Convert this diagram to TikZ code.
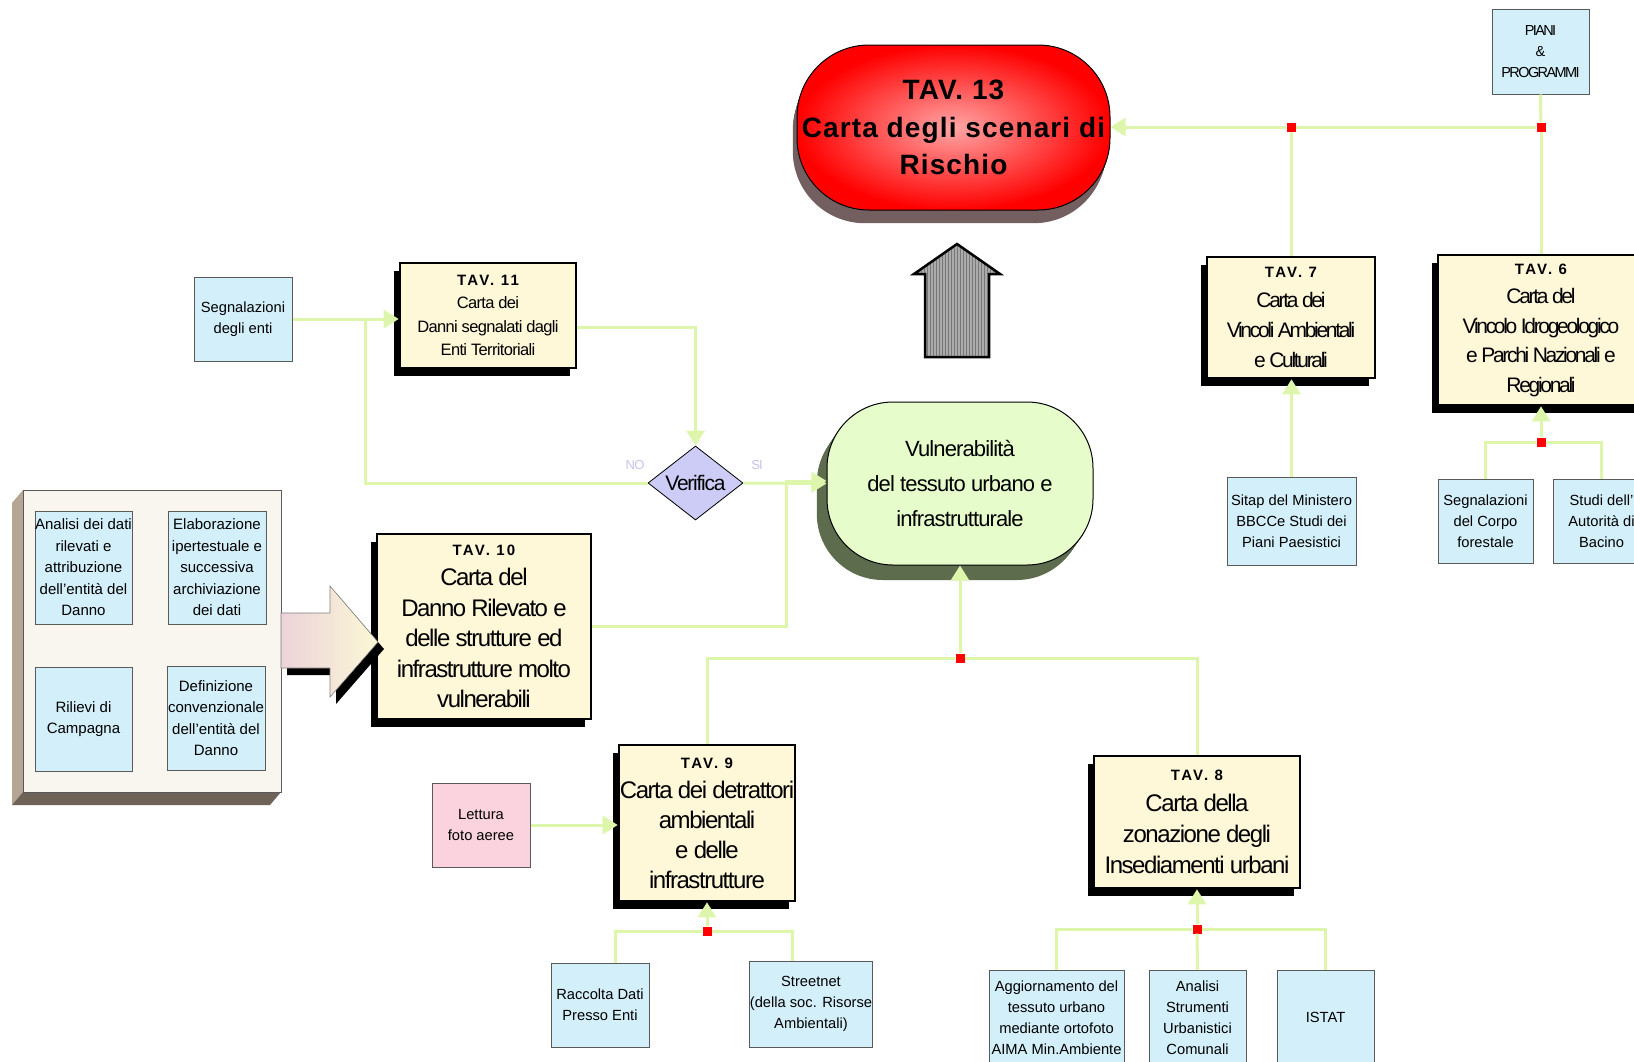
\documentclass[tikz,border=0pt]{standalone}
\usepackage{fontspec}
\setmainfont{Liberation Sans}
\newfontfamily\tightA[LetterSpace=-4]{Liberation Sans}
\newfontfamily\tightB[LetterSpace=-6]{Liberation Sans}
\newfontfamily\tightC[LetterSpace=-11]{Liberation Sans}
\newfontfamily\spaced[LetterSpace=15]{Liberation Sans}
\newfontfamily\spacedbig[LetterSpace=4]{Liberation Sans}
\usetikzlibrary{arrows.meta,shapes.geometric,shadows,patterns,calc}

\definecolor{linkgreen}{HTML}{DDF6AC}
\definecolor{boxblue}{HTML}{D3EFF9}
\definecolor{boxedge}{HTML}{5A5A5A}
\definecolor{pinkbox}{HTML}{FAD3DE}
\definecolor{tavfill}{HTML}{FEF7D8}
\definecolor{diafill}{HTML}{CCCCF7}
\definecolor{nosi}{HTML}{C4C4F0}
\definecolor{vulnfill}{HTML}{E6FCCB}
\definecolor{vulnside}{HTML}{5E6C4E}
\definecolor{redside}{HTML}{735F60}
\definecolor{panelface}{HTML}{F9F6F0}
\definecolor{panelleft}{HTML}{B5A595}
\definecolor{panelbottom}{HTML}{6F6358}
\definecolor{arrpink}{HTML}{ECD3D9}
\definecolor{arrcream}{HTML}{FBF8D6}
\definecolor{arrgray}{HTML}{ABABAB}
\definecolor{arrstripe}{HTML}{777777}

\newcommand\fsz[2]{\fontsize{#1}{#2}\selectfont}
\newcommand\tavhead[1]{{\spaced\bfseries\fontsize{15}{18}\selectfont #1}}

\begin{document}
\begin{tikzpicture}[x=1pt,y=-1pt,
  link/.style={draw=linkgreen, line width=3pt},
  arr/.style={link, -{Triangle[length=15pt,width=18pt]}},
  info/.style={draw=boxedge, line width=1pt, fill=boxblue, align=center,
    inner sep=0pt, font=\fsz{14.7}{21}},
  tav/.style={draw=black, line width=2.6pt, fill=tavfill, align=center,
    inner sep=0pt,
    drop shadow={shadow xshift=-6pt, shadow yshift=-8pt, fill=black, opacity=1}},
  junc/.style={fill=red, draw=none, minimum size=9pt, inner sep=0pt},
  subbox/.style={info, font=\fsz{15}{21.5}}
]
\path[use as bounding box] (0,0) rectangle (1634,1061);
\clip (0,0) rectangle (1634,1061);
\fill[white] (0,0) rectangle (1634,1061);

% ---------- extruded sides of the two rounded shapes ----------
\foreach \k in {1,...,12}
  \fill[redside, rounded corners=72pt]
    ({797-0.35*\k},{45+1.1*\k}) rectangle ({1110-0.35*\k},{210+1.1*\k});
\foreach \k in {1,...,12}
  \fill[vulnside, rounded corners=66pt]
    ({827-0.85*\k},{402+1.25*\k}) rectangle ({1093-0.85*\k},{565+1.25*\k});

% ---------- main map ----------
\node[draw=black, line width=1pt, rounded corners=72pt,
      inner color=red!35!white, outer color=red,
      minimum width=313pt, minimum height=165pt, inner sep=0pt,
      align=center, font=\spacedbig\bfseries\fsz{28}{37.5}]
  (tav13) at (953.5,127.5) {TAV. 13\\Carta degli scenari di\\Rischio};

\node[draw=black, line width=1pt, rounded corners=66pt, fill=vulnfill,
      minimum width=266pt, minimum height=163pt, inner sep=0pt,
      align=center, font=\tightA\fsz{22}{35}]
  (vuln) at (960,483.5) {Vulnerabilità\\del tessuto urbano e\\infrastrutturale};

% ---------- TAV boxes ----------
\node[tav, minimum width=176pt, minimum height=105pt, font=\tightA\fsz{16.5}{23.5}]
  (tav11) at (488,315.5) {\tavhead{TAV. 11}\\Carta dei\\Danni segnalati dagli\\Enti Territoriali};
\node[tav, minimum width=214pt, minimum height=185pt, font=\tightB\fsz{24}{30.5}]
  (tav10) at (484,626.5) {\tavhead{TAV. 10}\\Carta del\\Danno Rilevato e\\delle strutture ed\\infrastrutture molto\\vulnerabili};
\node[tav, minimum width=176pt, minimum height=156pt, font=\tightB\fsz{24}{30}]
  (tav9) at (707,823) {\tavhead{TAV. 9}\\Carta dei detrattori\\ambientali\\e delle\\infrastrutture};
\node[tav, minimum width=206pt, minimum height=132pt, font=\tightB\fsz{24}{31}]
  (tav8) at (1197,822) {\tavhead{TAV. 8}\\Carta della\\zonazione degli\\Insediamenti urbani};
\node[tav, minimum width=168pt, minimum height=121pt, font=\tightC\fsz{21}{30}]
  (tav7) at (1291,317.5) {\tavhead{TAV. 7}\\Carta dei\\Vincoli Ambientali\\e Culturali};
\node[tav, minimum width=206pt, minimum height=150pt, font=\tightC\fsz{21}{29.5}]
  (tav6) at (1541,330) {\tavhead{TAV. 6}\\Carta del\\Vincolo Idrogeologico\\e Parchi Nazionali e\\Regionali};

% ---------- decision ----------
\node[diamond, draw=black, line width=0.8pt, fill=diafill, inner sep=0pt,
      minimum width=95pt, minimum height=74pt,
      label={[font=\tightB\fsz{21}{24}]center:Verifica}] (verif) at (695.5,483) {};
\node[font=\tightB\fsz{13}{15}, text=nosi] (nolab) at (635,465) {NO};
\node[font=\tightB\fsz{13}{15}, text=nosi] (silab) at (757,465) {SI};

% ---------- source boxes ----------
\node[info, minimum width=97pt, minimum height=85pt, font=\tightC\fsz{14.5}{21}]
  (piani) at (1540.5,51.5) {PIANI\\\&\\PROGRAMMI};
\node[info, minimum width=98pt, minimum height=84pt] (segn) at (243,319) {Segnalazioni\\degli enti};
\node[info, minimum width=129pt, minimum height=88pt] (sitap) at (1291.5,521) {Sitap del Ministero\\BBCCe Studi dei\\Piani Paesistici};
\node[info, minimum width=95pt, minimum height=84pt] (corpo) at (1485.5,521) {Segnalazioni\\del Corpo\\forestale};
\node[info, minimum width=97pt, minimum height=84pt] (studi) at (1601.5,521) {Studi dell'\\Autorità di\\Bacino};
\node[info, fill=pinkbox, minimum width=98pt, minimum height=84pt] (lettura) at (481,825) {Lettura\\foto aeree};
\node[info, minimum width=98pt, minimum height=84pt] (raccolta) at (600,1005) {Raccolta Dati\\Presso Enti};
\node[info, minimum width=120pt, minimum height=86pt] (street) at (811,1004) {Streetnet\\(della soc. Risorse\\Ambientali)};
\node[info, minimum width=135pt, minimum height=95pt] (aggiorn) at (1056.5,1017.5) {Aggiornamento del\\tessuto urbano\\mediante ortofoto\\AIMA Min.Ambiente};
\node[info, minimum width=97pt, minimum height=95pt] (strum) at (1197.5,1017.5) {Analisi\\Strumenti\\Urbanistici\\Comunali};
\node[info, minimum width=97pt, minimum height=95pt] (istat) at (1325.5,1017.5) {ISTAT};

% ---------- survey panel ----------
\fill[panelleft] (23,490) -- (12,503) -- (12,805) -- (23,792) -- cycle;
\fill[panelbottom] (12,805) -- (270,805) -- (281,792) -- (23,792) -- cycle;
\draw[fill=panelface, draw=boxedge, line width=0.8pt] (23,490) rectangle (281,792);
\node[subbox, minimum width=97pt, minimum height=113pt] (analisi) at (83.5,567.5) {Analisi dei dati\\rilevati e\\attribuzione\\dell'entità del\\Danno};
\node[subbox, minimum width=98pt, minimum height=113pt] (elab) at (217,567.5) {Elaborazione\\ipertestuale e\\successiva\\archiviazione\\dei dati};
\node[subbox, minimum width=97pt, minimum height=104pt] (rilievi) at (83.5,719) {Rilievi di\\Campagna};
\node[subbox, minimum width=98pt, minimum height=104pt] (defin) at (216,718) {Definizione\\convenzionale\\dell'entità del\\Danno};

% block arrow from the panel into TAV 10
\fill[black] (287,620) -- (336,620) -- (336,593) -- (384,649) -- (336,704) -- (336,675) -- (287,675) -- cycle;
\draw[draw=gray, line width=0.6pt, left color=arrpink, right color=arrcream]
  (281,613) -- (330,613) -- (330,586) -- (378,642) -- (330,697) -- (330,668) -- (281,668) -- cycle;

% striped arrow towards TAV 13
\draw[line width=2.5pt, line join=miter, preaction={fill=arrgray},
      pattern=vertical lines, pattern color=arrstripe]
  (925,357) -- (925,274) -- (914,274) -- (957,244) -- (1000,274) -- (989,274) -- (989,357) -- cycle;

% ---------- junctions ----------
\node[junc] (j7) at (1291,127) {};
\node[junc] (j6) at (1541,127) {};
\node[junc] (jA) at (1541,442) {};
\node[junc] (jB) at (960,658) {};
\node[junc] (j9) at (707,931) {};
\node[junc] (j8) at (1197,929) {};
\coordinate (noj) at (365,318);
\coordinate (j10) at (786,481);

% ---------- connectors ----------
\draw[arr] (segn.east) -- (segn.east -| tav11.west);
\draw[link] (verif.west) -| (noj);
\draw[arr] ([yshift=-11.5pt]tav11.east) -| (verif.north);
\draw[arr] (verif.east) -- (vuln.west);
\draw[arr] (tav10.east) -| (j10) -- (j10 -| vuln.west);

\draw[link] (jB) -| (tav9.north);
\draw[link] (jB) -| (tav8.north);
\draw[arr] (jB) -- (vuln.south);

\draw[link] (tav7.north) -- (j7);
\draw[link] (tav6.north) -- (j6);
\draw[link] (piani.south) -- (j6);
\draw[link] (j6) -- (j7);
\draw[arr] (j7) -- (j7 -| tav13.east);

\draw[arr] (sitap.north) -- (sitap.north |- tav7.south);
\draw[link] (corpo.north) |- (jA);
\draw[link] (studi.north) |- (jA);
\draw[arr] (jA) -- (tav6.south);

\draw[arr] (lettura.east) -- (lettura.east -| tav9.west);
\draw[link] ([xshift=15pt]raccolta.north) |- (j9);
\draw[link] ([xshift=-19pt]street.north) |- (j9);
\draw[arr] (j9) -- (tav9.south);

\draw[link] (aggiorn.north) |- (j8);
\draw[link] (strum.north) -- (j8);
\draw[link] (istat.north) |- (j8);
\draw[arr] (j8) -- (tav8.south);
\end{tikzpicture}
\end{document}
